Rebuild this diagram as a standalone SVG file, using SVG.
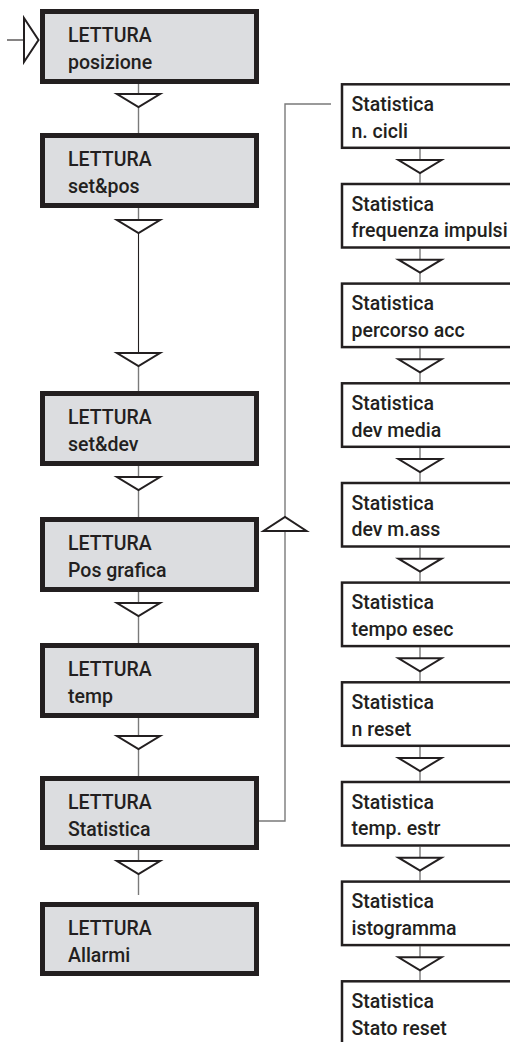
<svg xmlns="http://www.w3.org/2000/svg" width="510" height="1042" viewBox="0 0 510 1042">
  <style>
    .lbox { fill: #dcdde0; stroke: #231f20; stroke-width: 5; }
    .rbox { fill: #ffffff; stroke: #231f20; stroke-width: 2.5; }
    .txt { font-family: Roboto, "Liberation Sans", sans-serif; font-weight: 500; font-size: 19.5px; fill: #231f20; }
    .wire { fill: none; stroke: #7a7a7a; stroke-width: 1.4; }
    .wire-dark { fill: none; stroke: #231f20; stroke-width: 1.1; }
    .tri { fill: #ffffff; stroke: #231f20; stroke-width: 2; stroke-linejoin: miter; }
  </style>
  <defs>
    <!-- open arrowhead pointing down, origin at the middle of its base -->
    <path id="down" class="tri" d="M-21.5 0 L21.5 0 L0 13 Z"/>
    <path id="up" class="tri" d="M-21.5 0 L21.5 0 L0 -14 Z"/>
  </defs>

  <!-- connectors -->
  <g id="connectors">
    <!-- entry -->
    <path class="wire-dark" d="M7 40 H24"/>
    <path class="tri" d="M24 18 L24 62 L38.5 40 Z"/>
    <!-- left column -->
    <path class="wire" d="M138.5 84 V133"/>
    <path class="wire" d="M138.5 208 V233"/>
    <path class="wire-dark" d="M138.5 233 V353"/>
    <path class="wire" d="M138.5 366 V391"/>
    <path class="wire" d="M138.5 466 V517"/>
    <path class="wire" d="M138.5 592 V643"/>
    <path class="wire" d="M138.5 718 V776"/>
    <path class="wire" d="M138.5 850 V895"/>
    <use href="#down" x="138.5" y="94"/>
    <use href="#down" x="138.5" y="220"/>
    <use href="#down" x="138.5" y="353"/>
    <use href="#down" x="138.5" y="477"/>
    <use href="#down" x="138.5" y="603"/>
    <use href="#down" x="138.5" y="736"/>
    <use href="#down" x="138.5" y="861"/>
    <!-- loop from Statistica to the statistics chain -->
    <path class="wire" d="M259 821 H285 V104 H331"/>
    <use href="#up" x="285" y="531"/>
    <!-- right column -->
    <path class="wire" d="M420 149 V182.7 M420 248.7 V282.3 M420 348.3 V382 M420 448 V481.7 M420 547.7 V581.3 M420 647.3 V681 M420 747 V780.7 M420 846.7 V880.3 M420 946.3 V980"/>
    <use href="#down" x="420" y="160"/>
    <use href="#down" x="420" y="259.7"/>
    <use href="#down" x="420" y="359.3"/>
    <use href="#down" x="420" y="459"/>
    <use href="#down" x="420" y="558.7"/>
    <use href="#down" x="420" y="658.3"/>
    <use href="#down" x="420" y="758"/>
    <use href="#down" x="420" y="857.7"/>
    <use href="#down" x="420" y="957.3"/>
  </g>

  <!-- left column -->
  <g id="lettura-posizione">
    <rect class="lbox" x="42.5" y="11.5" width="214" height="70"/>
    <text class="txt" x="68" y="42">LETTURA</text>
    <text class="txt" x="68" y="69">posizione</text>
  </g>
  <g id="lettura-setpos">
    <rect class="lbox" x="42.5" y="135.5" width="214" height="70"/>
    <text class="txt" x="68" y="166">LETTURA</text>
    <text class="txt" x="68" y="193">set&amp;pos</text>
  </g>
  <g id="lettura-setdev">
    <rect class="lbox" x="42.5" y="393.5" width="214" height="70"/>
    <text class="txt" x="68" y="424">LETTURA</text>
    <text class="txt" x="68" y="451">set&amp;dev</text>
  </g>
  <g id="lettura-posgrafica">
    <rect class="lbox" x="42.5" y="519.5" width="214" height="70"/>
    <text class="txt" x="68" y="550">LETTURA</text>
    <text class="txt" x="68" y="577">Pos grafica</text>
  </g>
  <g id="lettura-temp">
    <rect class="lbox" x="42.5" y="645.5" width="214" height="70"/>
    <text class="txt" x="68" y="676">LETTURA</text>
    <text class="txt" x="68" y="703">temp</text>
  </g>
  <g id="lettura-statistica">
    <rect class="lbox" x="42.5" y="778.5" width="214" height="69"/>
    <text class="txt" x="68" y="809">LETTURA</text>
    <text class="txt" x="68" y="836">Statistica</text>
  </g>
  <g id="lettura-allarmi">
    <rect class="lbox" x="42.5" y="904.5" width="214" height="69"/>
    <text class="txt" x="68" y="935">LETTURA</text>
    <text class="txt" x="68" y="962">Allarmi</text>
  </g>

  <!-- statistics chain -->
  <g id="stat-cicli">
    <rect class="rbox" x="342" y="84.3" width="200" height="63.5"/>
    <text class="txt" x="351.5" y="111">Statistica</text>
    <text class="txt" x="351.5" y="137.5">n. cicli</text>
  </g>
  <g id="stat-frequenza">
    <rect class="rbox" x="342" y="184" width="200" height="63.5"/>
    <text class="txt" x="351.5" y="210.7">Statistica</text>
    <text class="txt" x="351.5" y="237.2">frequenza impulsi</text>
  </g>
  <g id="stat-percorso">
    <rect class="rbox" x="342" y="283.6" width="200" height="63.5"/>
    <text class="txt" x="351.5" y="310.3">Statistica</text>
    <text class="txt" x="351.5" y="336.8">percorso acc</text>
  </g>
  <g id="stat-devmedia">
    <rect class="rbox" x="342" y="383.3" width="200" height="63.5"/>
    <text class="txt" x="351.5" y="410">Statistica</text>
    <text class="txt" x="351.5" y="436.5">dev media</text>
  </g>
  <g id="stat-devmass">
    <rect class="rbox" x="342" y="483" width="200" height="63.5"/>
    <text class="txt" x="351.5" y="509.7">Statistica</text>
    <text class="txt" x="351.5" y="536.2">dev m.ass</text>
  </g>
  <g id="stat-tempo">
    <rect class="rbox" x="342" y="582.6" width="200" height="63.5"/>
    <text class="txt" x="351.5" y="609.3">Statistica</text>
    <text class="txt" x="351.5" y="635.8">tempo esec</text>
  </g>
  <g id="stat-nreset">
    <rect class="rbox" x="342" y="682.3" width="200" height="63.5"/>
    <text class="txt" x="351.5" y="709">Statistica</text>
    <text class="txt" x="351.5" y="735.5">n reset</text>
  </g>
  <g id="stat-tempestr">
    <rect class="rbox" x="342" y="782" width="200" height="63.5"/>
    <text class="txt" x="351.5" y="808.7">Statistica</text>
    <text class="txt" x="351.5" y="835.2">temp. estr</text>
  </g>
  <g id="stat-istogramma">
    <rect class="rbox" x="342" y="881.6" width="200" height="63.5"/>
    <text class="txt" x="351.5" y="908.3">Statistica</text>
    <text class="txt" x="351.5" y="934.8">istogramma</text>
  </g>
  <g id="stat-statoreset">
    <rect class="rbox" x="342" y="981.3" width="200" height="63.5"/>
    <text class="txt" x="351.5" y="1008">Statistica</text>
    <text class="txt" x="351.5" y="1034.5">Stato reset</text>
  </g>
</svg>
